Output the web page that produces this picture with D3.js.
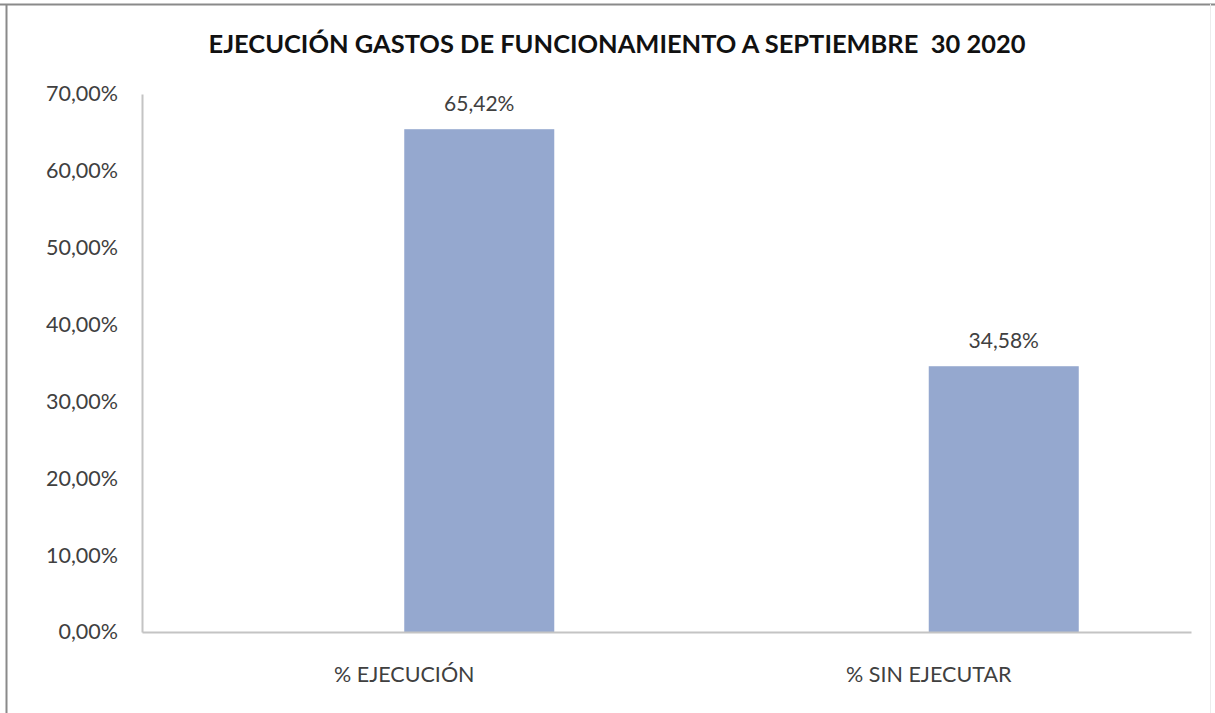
<!DOCTYPE html>
<html><head><meta charset="utf-8">
<script src="https://cdn.jsdelivr.net/npm/d3@7"></script>
<style>html,body{margin:0;padding:0;background:#fff;}svg{display:block;}</style>
</head><body>
<svg id="c" width="1215" height="713"></svg>
<script>
const title = "EJECUCIÓN GASTOS DE FUNCIONAMIENTO A SEPTIEMBRE\u00a0\u00a030 2020";
const categories = ["% EJECUCIÓN", "% SIN EJECUTAR"];
const seriesNames = ["(vacía)", "Valor"];
const values = [0.6542, 0.3458];
const valueLabels = ["65,42%", "34,58%"];
const yTicks = [0, 0.1, 0.2, 0.3, 0.4, 0.5, 0.6, 0.7];
const yTickLabels = ["0,00%", "10,00%", "20,00%", "30,00%", "40,00%", "50,00%", "60,00%", "70,00%"];

(function () {
const svg = d3.select("#c");
const font = "Lato, 'Open Sans', sans-serif";
const plotLeft = 142, plotRight = 1191, plotTop = 94, plotBottom = 632;

// outer frame
svg.append("line").attr("x1", 0).attr("x2", 1215).attr("y1", 4.5).attr("y2", 4.5).attr("stroke", "#8a8a8a").attr("stroke-width", 2);
svg.append("line").attr("x1", 6.5).attr("x2", 6.5).attr("y1", 4).attr("y2", 713).attr("stroke", "#8a8a8a").attr("stroke-width", 2);
svg.append("line").attr("x1", 1210.5).attr("x2", 1210.5).attr("y1", 4).attr("y2", 713).attr("stroke", "#ececec").attr("stroke-width", 1);

const x = d3.scaleBand().domain(categories).range([plotLeft, plotRight])
  .paddingInner(0.428).paddingOuter(0.214);
const xs = d3.scaleBand().domain(seriesNames).range([0, x.bandwidth()]);
const y = d3.scaleLinear().domain([0, 0.7]).range([plotBottom, plotTop]);

// title
svg.append("text").attr("x", 617).attr("y", 53).attr("text-anchor", "middle")
  .attr("font-family", font).attr("font-weight", "bold").attr("font-size", 24).attr("fill", "#111")
  .attr("textLength", 817).attr("lengthAdjust", "spacingAndGlyphs")
  .text(title);

// y axis
const yAxis = d3.axisLeft(y).tickValues(yTicks).tickFormat((d, i) => yTickLabels[i]).tickSize(0).tickPadding(24);
const ga = svg.append("g").attr("transform", `translate(${plotLeft},0)`).call(yAxis);
ga.select(".domain").attr("stroke", "#c4c4c4").attr("stroke-width", 2);
ga.selectAll("text").attr("font-family", font).attr("font-size", 21.5).attr("fill", "#404040");

// bars (second series slot of each category)
const barX = d => x(d) + xs("Valor");
svg.append("g").selectAll("rect").data(categories).join("rect")
  .attr("x", barX).attr("width", xs.bandwidth())
  .attr("y", (d, i) => y(values[i])).attr("height", (d, i) => y(0) - y(values[i]))
  .attr("fill", "#95a8cf");

// baseline (x axis)
const xAxis = d3.axisBottom(x).tickSize(0).tickPadding(35);
const gx = svg.append("g").attr("transform", `translate(0,${plotBottom})`).call(xAxis);
gx.select(".domain").attr("stroke", "#c4c4c4").attr("stroke-width", 2);
gx.selectAll("text").attr("font-family", font).attr("font-size", 21.5).attr("fill", "#404040");

// value labels
svg.append("g").selectAll("text").data(categories).join("text")
  .attr("x", d => barX(d) + xs.bandwidth() / 2)
  .attr("y", (d, i) => y(values[i]) - 18)
  .attr("text-anchor", "middle").attr("font-family", font).attr("font-size", 21).attr("fill", "#404040")
  .text((d, i) => valueLabels[i]);
})();
</script>
</body></html>
